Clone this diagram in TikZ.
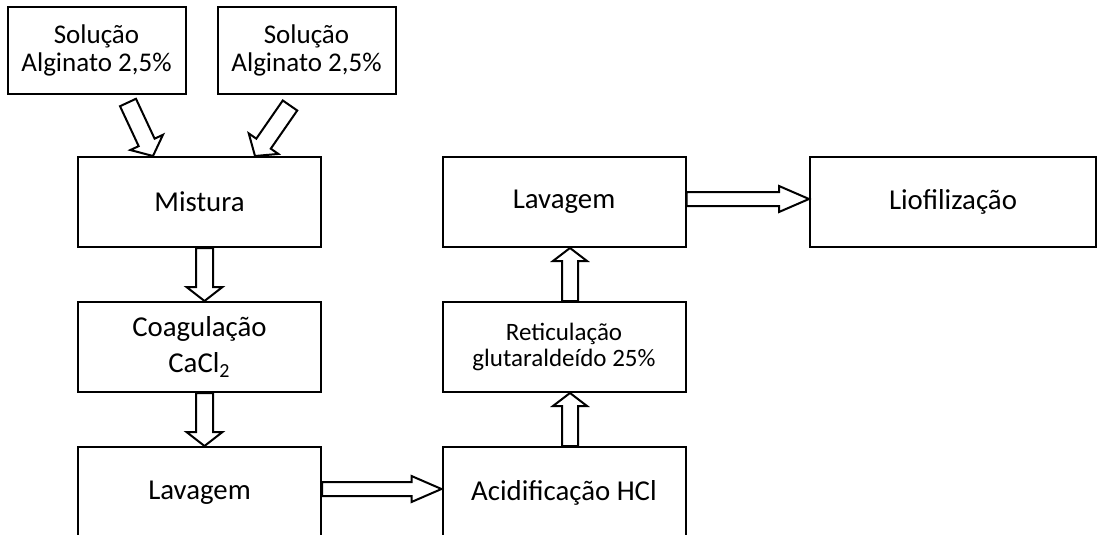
\documentclass[tikz,border=0pt]{standalone}
\usepackage{fontspec}
\setmainfont{Carlito}
\usetikzlibrary{calc}

% hollow block arrow: tail, tip, half shaft, half head, head length
\newcommand{\hollowarrow}[5]{%
  \coordinate (ha-s) at (#1);
  \coordinate (ha-e) at (#2);
  \coordinate (ha-h) at ($(ha-e)!#5!(ha-s)$);
  \draw[blockarrow] ($(ha-s)!#3!90:(ha-e)$) -- ($(ha-h)!#3!-90:(ha-s)$)
    -- ($(ha-h)!#4!-90:(ha-s)$) -- (ha-e) -- ($(ha-h)!#4!90:(ha-s)$)
    -- ($(ha-h)!#3!90:(ha-s)$) -- ($(ha-s)!#3!-90:(ha-e)$) -- cycle;
}

\begin{document}
\begin{tikzpicture}[x=0.5pt,y=-0.5pt,
    procbox/.style={draw,line width=1pt,inner sep=0pt,align=center,
      font=\fontsize{14.4}{18}\selectfont,minimum width=121.5pt,minimum height=45pt},
    solbox/.style={procbox,font=\fontsize{13.5}{14}\selectfont,
      minimum width=89pt,minimum height=43.5pt},
    blockarrow/.style={draw,fill=white,line width=1pt,line join=miter}]
  \useasboundingbox (0,0) rectangle (1098,535);
  \clip (0,0) rectangle (1098,535);

  % inputs
  \node[solbox] (sol1) at (96.5,50.5) {Solução\\Alginato 2,5\%};
  \node[solbox] (sol2) at (306.5,50.5) {Solução\\Alginato 2,5\%};

  % process steps
  \node[procbox] (mix) at (199.5,202) {Mistura};
  \node[procbox] (coag) at (199.5,347) {Coagulação\\CaCl\textsubscript{2}};
  \node[procbox,minimum height=46pt] (lav1) at (199.5,493) {Lavagem};
  \node[procbox,minimum height=46pt] (acid) at (564,493) {Acidificação HCl};
  \node[procbox,font=\fontsize{12.5}{13}\selectfont] (ret) at (564,347) {Reticulação\\glutaraldeído 25\%};
  \node[procbox] (lav2) at (564,202) {Lavagem};
  \node[procbox,minimum width=143pt] (liof) at (953,202) {Liofilização};

  % arrows
  \hollowarrow{$(sol1.south)+(31.5,7.5)$}{$(mix.north)+(-46.5,0)$}{4.4pt}{9pt}{7.5pt}
  \hollowarrow{$(sol2.south)+(-16.5,10.5)$}{$(mix.north)+(55.5,0)$}{4.4pt}{9pt}{7.5pt}
  \hollowarrow{$(mix.south)+(5,0)$}{$(coag.north)+(5,0)$}{4.25pt}{9pt}{7pt}
  \hollowarrow{$(coag.south)+(5,0)$}{$(lav1.north)+(5,0)$}{4.25pt}{9pt}{7pt}
  \hollowarrow{$(lav1.east)+(0,-4)$}{$(acid.west)+(0,-4)$}{3.5pt}{6.5pt}{15pt}
  \hollowarrow{$(acid.north)+(6,0)$}{$(ret.south)+(6,0)$}{4pt}{8.5pt}{6.5pt}
  \hollowarrow{$(ret.north)+(6,0)$}{$(lav2.south)+(6,0)$}{4pt}{8.5pt}{6.5pt}
  \hollowarrow{$(lav2.east)+(0,-3)$}{$(liof.west)+(0,-3)$}{3.5pt}{6.5pt}{15pt}
\end{tikzpicture}
\end{document}
